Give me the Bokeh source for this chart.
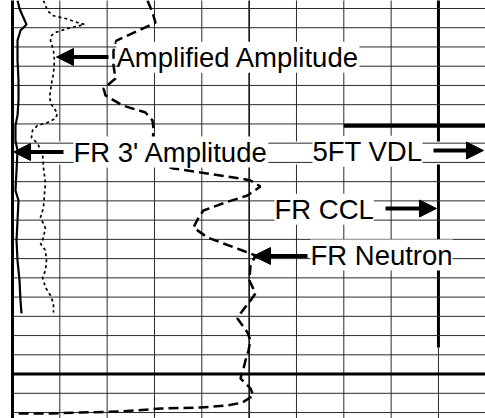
from bokeh.plotting import figure
from bokeh.models import Range1d, Label, Arrow, NormalHead
from bokeh.embed import file_html
from bokeh.resources import INLINE

# ---- data (x in chart divisions 0..10, depth in ft below top of section) ----
solid_div = [0.106, 0.148, 0.211, 0.296, 0.169, 0.106, 0.106, 0.127, 0.127, 0.106, 0.063,
             0.063, 0.106, 0.085, 0.063, 0.127, 0.106, 0.085, 0.106, 0.148, 0.169, 0.19]
solid_depth = [-0.83, 0.0, 0.73, 1.66, 2.29, 3.33, 5.41, 7.48, 9.56, 11.12, 12.16,
               13.72, 14.76, 16.84, 18.92, 19.96, 22.04, 24.12, 26.2, 28.27, 30.35, 31.7]

dotted_div = [0.655, 0.739, 0.845, 1.12, 1.373, 1.521, 1.162, 0.909, 0.824, 0.803, 0.866,
              0.887, 0.866, 0.824, 0.782, 0.824, 0.909, 0.951, 0.909, 0.739, 0.528, 0.423,
              0.401, 0.528, 0.634, 0.655, 0.697, 0.676, 0.655, 0.592, 0.655, 0.697, 0.634,
              0.592, 0.697, 0.718, 0.697, 0.634, 0.697, 0.803, 0.866, 0.866]
dotted_depth = [-0.83, 0.21, 0.73, 1.04, 1.46, 1.66, 2.08, 2.49, 2.81, 3.33, 4.37,
                5.41, 6.76, 7.8, 9.25, 9.98, 10.6, 10.91, 11.43, 11.85, 12.16, 12.68,
                13.41, 14.03, 15.07, 16.53, 18.19, 19.23, 20.69, 21.73, 22.35, 22.87, 24.12,
                24.43, 25.16, 26.2, 27.23, 27.96, 29.0, 29.83, 30.67, 31.6]

dashed_div = [2.852, 2.958, 3.021, 2.62, 2.197, 2.134, 2.134, 2.176, 1.923, 1.965, 2.324,
              2.81, 2.958, 2.979, 2.958, 3.021, 3.402, 3.972, 4.817, 5.028, 5.24, 4.965,
              4.5, 4.035, 3.93, 3.824, 4.12, 4.458, 4.859, 5.134, 5.028, 5.007, 5.134,
              5.028, 4.817, 4.754, 4.965, 5.028, 4.986, 4.923, 4.881, 4.817, 5.028, 5.092,
              4.859, 4.543, 3.972, 3.127, 2.282, 1.437, 0.803, 0.0]
dashed_depth = [-0.83, 0.42, 1.46, 2.39, 3.33, 4.37, 5.93, 7.28, 8.32, 9.04, 10.08,
                10.81, 11.64, 12.47, 14.24, 16.11, 16.63, 17.05, 17.67, 17.88, 18.5, 19.44,
                20.17, 21.0, 21.73, 22.77, 23.8, 24.43, 25.16, 25.68, 26.72, 28.27, 29.63,
                30.35, 31.7, 32.22, 33.68, 34.51, 35.55, 36.59, 37.42, 38.46, 39.5, 40.23,
                40.96, 41.27, 41.48, 41.58, 41.89, 42.0, 42.1, 42.1]

# grid
thin_divs = [1, 2, 3, 4, 6, 7, 8]
depth_lines = [d for d in range(0, 43, 2) if d != 38]
heavy_depth = 38
vdl_track_end = 35.24

label_texts = ["Amplified Amplitude", "FR 3' Amplitude", "5FT VDL", "FR CCL", "FR Neutron"]
label_x = [2.197, 1.289, 6.338, 5.536, 6.296]
label_y = [5.06, 14.93, 14.83, 20.86, 25.63]

arrow_x0 = [2.028, 1.078, 8.895, 7.881, 6.233]
arrow_x1 = [0.93, 0.021, 9.951, 8.958, 5.092]
arrow_y = [5.04, 14.92, 14.76, 20.79, 25.73]

p = figure(width=485, height=418, x_range=Range1d(-0.2535, 9.994), y_range=Range1d(42.62, -0.83),
           output_backend="svg", toolbar_location=None, min_border=0,
           x_axis_type=None, y_axis_type=None, outline_line_color=None,
           background_fill_color="white", border_fill_color="white")
p.grid.visible = False

GRID = "#2a2a2a"
# vertical lines
p.segment(x0=thin_divs, y0=[-1] * len(thin_divs), x1=thin_divs, y1=[43] * len(thin_divs),
          line_color=GRID, line_width=1)
p.segment(x0=[5], y0=[-1], x1=[5], y1=[43], line_color="black", line_width=1.5)
p.segment(x0=[9], y0=[-1], x1=[9], y1=[vdl_track_end], line_color="black", line_width=3)
p.segment(x0=[9], y0=[vdl_track_end], x1=[9], y1=[43], line_color=GRID, line_width=1)

# white band behind label row
p.quad(left=[0.04], right=[10.1], top=[13.83], bottom=[16.22], fill_color="white", line_color=None)

# horizontal lines
p.segment(x0=[0] * len(depth_lines), y0=depth_lines, x1=[10.1] * len(depth_lines), y1=depth_lines,
          line_color=GRID, line_width=1)
p.segment(x0=[0], y0=[heavy_depth], x1=[10.1], y1=[heavy_depth], line_color="black", line_width=3)
p.segment(x0=[7], y0=[12.2], x1=[10.1], y1=[12.2], line_color="black", line_width=4)
p.segment(x0=[0], y0=[-1], x1=[0], y1=[43], line_color="black", line_width=3)

# curves
p.line(solid_div, solid_depth, line_color="black", line_width=2.2)
p.line(dotted_div, dotted_depth, line_color="black", line_width=1.7, line_dash="3 3")
p.line(dashed_div, dashed_depth, line_color="black", line_width=2.5, line_dash="10 5")

for t, x, y in zip(label_texts, label_x, label_y):
    p.add_layout(Label(x=x, y=y, text=t, text_font="Liberation Sans", text_font_size="27.5px",
                       text_color="black", text_baseline="alphabetic",
                       background_fill_color="white"))

for x0, x1, y in zip(arrow_x0, arrow_x1, arrow_y):
    p.add_layout(Arrow(end=NormalHead(size=17, fill_color="black", line_color="black"),
                       x_start=x0, y_start=y, x_end=x1, y_end=y,
                       line_color="black", line_width=4))

open("out.html", "w").write(file_html(p, INLINE))
